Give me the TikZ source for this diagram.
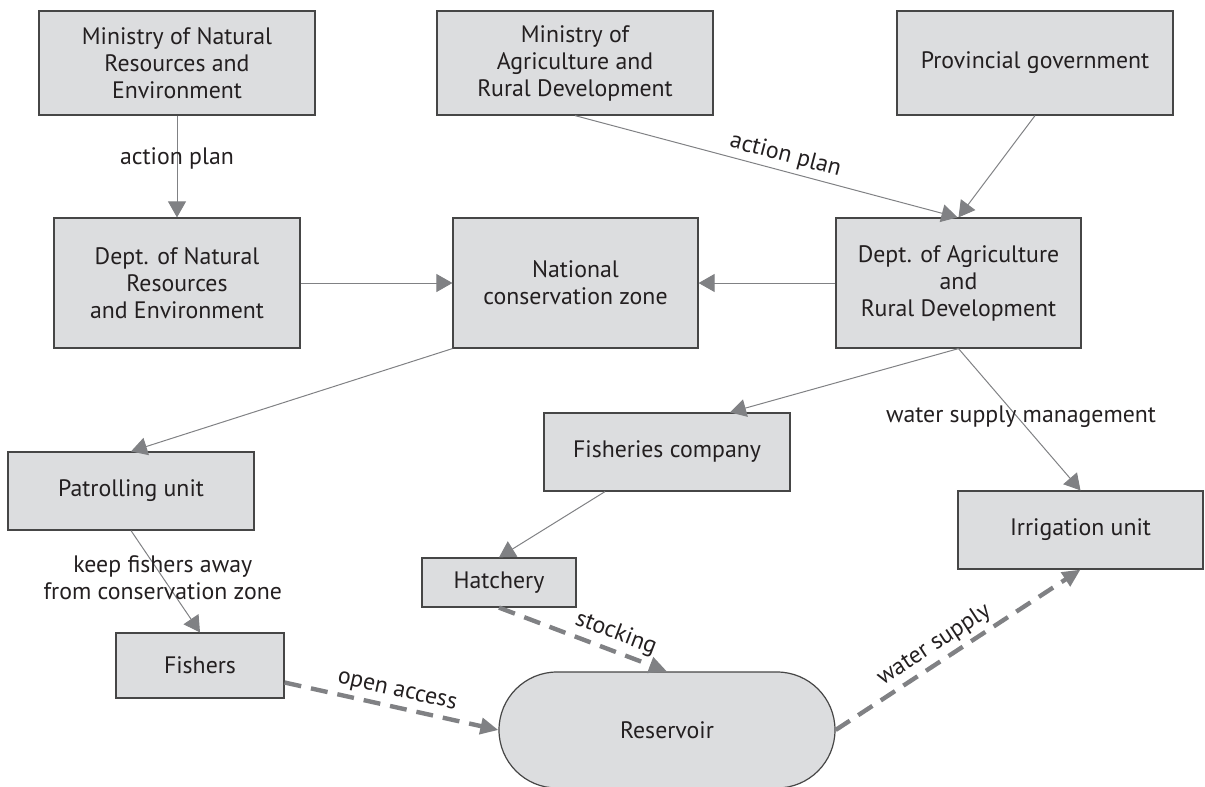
\documentclass[tikz,border=0pt]{standalone}
\usepackage{fontspec}
\setmainfont{PT Sans}
\usetikzlibrary{arrows.meta}
\definecolor{boxfill}{RGB}{220,221,223}
\definecolor{boxline}{RGB}{70,70,70}
\definecolor{linkgray}{RGB}{128,129,132}
\definecolor{txt}{RGB}{35,31,32}
\newcommand{\boxfont}{\fontsize{11.9pt}{13.5pt}\selectfont}

\begin{document}
\begin{tikzpicture}[x=0.5pt, y=-0.5pt,
    box/.style={draw=boxline, fill=boxfill, line width=0.6pt,
      align=center, inner sep=0pt, text=txt, font=\boxfont},
    lbl/.style={align=center, text=txt, font=\boxfont, inner sep=2pt},
    link/.style={draw=linkgray, line width=0.5pt,
      -{Triangle[length=8pt, width=9pt, color=linkgray]}},
    flow/.style={draw=linkgray, line width=2.2pt, dash pattern=on 8.5pt off 5pt,
      -{Triangle[length=9pt, width=8pt, color=linkgray]}}]
    \useasboundingbox (0,0) rectangle (1205,787);

    % ministries and province
    \node[box, minimum width=138pt, minimum height=52pt] (mnre) at (177,63)
      {Ministry of Natural\\Resources and\\Environment};
    \node[box, minimum width=138pt, minimum height=52pt] (mard) at (575,63)
      {Ministry of\\Agriculture and\\Rural Development};
    \node[box, minimum width=138pt, minimum height=52pt] (prov) at (1035,63)
      {Provincial government};

    % departments
    \node[box, minimum width=123pt, minimum height=65pt] (dnre) at (177,283)
      {Dept. of Natural\\Resources\\and Environment};
    \node[box, minimum width=122.5pt, minimum height=65pt] (ncz) at (575.5,283)
      {National\\conservation zone};
    \node[box, minimum width=122.5pt, minimum height=65pt] (dard) at (958.5,283)
      {Dept. of Agriculture\\and\\Rural Development};

    % units
    \node[box, minimum width=123pt, minimum height=39pt] (patrol) at (131,491)
      {Patrolling unit};
    \node[box, minimum width=123pt, minimum height=39pt] (fishco) at (667,452)
      {Fisheries company};
    \node[box, minimum width=122.5pt, minimum height=39pt] (irrig) at (1080.5,530)
      {Irrigation unit};
    \node[box, minimum width=77pt, minimum height=24.5pt] (hatch) at (499,582.5)
      {Hatchery};
    \node[box, minimum width=84pt, minimum height=32.5pt] (fishers) at (200,665.5)
      {Fishers};
    \node[box, minimum width=168pt, minimum height=58pt,
      rounded corners=29pt] (res) at (667,730) {Reservoir};

    % thin links
    \foreach \a/\b in {prov.south/dard.north, dnre.east/ncz.west,
        dard.west/ncz.east, ncz.south west/patrol.north}
      \draw[link] (\a) -- (\b);
    \draw[link] ([xshift=-31pt]fishco.south) -- (hatch.north);
    \draw[link] (dard.south) -- ([xshift=31.5pt]fishco.north);
    \draw[link] (mnre.south) -- node[lbl, pos=0.42] {action plan} (dnre.north);
    \draw[link] (mard.south) -- node[lbl, pos=0.54, sloped, above] {action plan}
      ([xshift=-0.5pt]dard.north);
    \draw[link] (dard.south) -- node[lbl, pos=0.48, xshift=2pt] {water supply management}
      (irrig.north);
    \draw[link] (patrol.south) -- node[lbl, pos=0.46]
      {keep fishers away\\from conservation zone} (fishers.north);

    % dashed flows
    \draw[flow] (hatch.south) -- node[lbl, pos=0.66, sloped, above] {stocking}
      (res.north);
    \draw[flow] ([yshift=-8.5pt]fishers.east) -- node[lbl, pos=0.51, sloped, above]
      {open access} (res.west);
    \draw[flow] (res.east) -- node[lbl, pos=0.44, sloped, above] {water supply}
      (irrig.south);
  \end{tikzpicture}
\end{document}
